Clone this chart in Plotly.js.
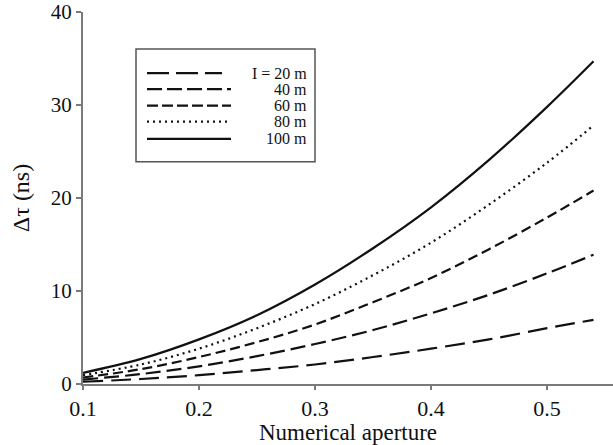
<!DOCTYPE html>
<html>
<head>
<meta charset="utf-8">
<script src="https://cdn.plot.ly/plotly-3.0.1.min.js"></script>
<style>html,body{margin:0;padding:0;background:#fff;}#chart{width:613px;height:445px;}</style>
</head>
<body>
<div id="chart"></div>
<script>
// Data
const numericalAperture = [0.10, 0.15, 0.20, 0.25, 0.30, 0.35, 0.40, 0.45, 0.50, 0.54];
const tau20  = [0.24, 0.54, 0.95, 1.5, 2.1, 2.9, 3.8, 4.8, 6.0, 6.9];
const tau40  = [0.48, 1.07, 1.9, 3.0, 4.3, 5.8, 7.6, 9.6, 11.9, 13.9];
const tau60  = [0.7, 1.6, 2.9, 4.5, 6.4, 8.8, 11.4, 14.5, 17.9, 20.8];
const tau80  = [0.95, 2.1, 3.8, 6.0, 8.6, 11.7, 15.2, 19.3, 23.8, 27.8];
const tau100 = [1.2, 2.7, 4.8, 7.4, 10.7, 14.6, 19.0, 24.1, 29.8, 34.7];
const seriesLabels = ['I = 20 m', '40 m', '60 m', '80 m', '100 m'];
const xTickVals = [0.1, 0.2, 0.3, 0.4, 0.5];
const xTickText = ['0.1', '0.2', '0.3', '0.4', '0.5'];
const yTickVals = [0, 10, 20, 30, 40];

const seriesValues = [tau20, tau40, tau60, tau80, tau100];
const dashes = ['20px,8px', '15px,6px', '10px,5px', '2px,4px', 'solid'];
const legendDashes = ['22px,7px', '15px,5px', '11px,4px', '2px,4px', 'solid'];

const traces = seriesValues.map((v, i) => ({
  x: numericalAperture, y: v, type: 'scatter', mode: 'lines',
  line: {color: '#111', width: 2.2, dash: dashes[i], shape: 'spline'},
  name: seriesLabels[i], showlegend: false, hoverinfo: 'skip'
}));

// pixel helpers for the hand-built legend (plot area: x 83..613, y 12..384.5)
const PL = 83, PR = 613, PT = 12, PB = 384.5;
const px = v => (v - PL) / (PR - PL);
const py = v => (PB - v) / (PB - PT);

const shapes = [{
  type: 'rect', xref: 'paper', yref: 'paper',
  x0: px(136), x1: px(315), y0: py(162), y1: py(49),
  line: {color: '#555', width: 1.5}, fillcolor: 'rgba(0,0,0,0)'
}];
const annotations = [];
const rowY = [73.3, 89.3, 105.7, 121.7, 139];
seriesLabels.forEach((lab, i) => {
  shapes.push({type: 'line', xref: 'paper', yref: 'paper',
    x0: px(147), x1: px(i === 0 ? 222 : 231), y0: py(rowY[i]), y1: py(rowY[i]),
    line: {color: '#111', width: 2.2, dash: legendDashes[i]}});
  annotations.push({xref: 'paper', yref: 'paper', x: px(308), y: py(rowY[i]),
    xanchor: 'right', yanchor: 'middle', text: lab, showarrow: false, borderpad: 0,
    font: {family: 'Liberation Serif, Times New Roman, serif', size: 16, color: '#111'}});
});

const fontFam = 'Liberation Serif, Times New Roman, serif';
const layout = {
  width: 613, height: 445,
  margin: {l: 83, r: 0, t: 12, b: 60.5, pad: 0},
  paper_bgcolor: '#fff', plot_bgcolor: '#fff',
  showlegend: false,
  font: {family: fontFam, color: '#111'},
  xaxis: {
    range: [0.1, 0.5568], tickvals: xTickVals, ticktext: xTickText,
    showgrid: false, zeroline: false, showline: true, linecolor: '#7a7a7a', linewidth: 2,
    ticks: 'outside', ticklen: 4, tickwidth: 1.5, tickcolor: '#7a7a7a',
    tickfont: {family: fontFam, size: 22, color: '#111'},
    title: {text: 'Numerical aperture', font: {family: fontFam, size: 23, color: '#111'}, standoff: 1}
  },
  yaxis: {
    range: [0, 40], tickvals: yTickVals,
    showgrid: false, zeroline: false, showline: true, linecolor: '#7a7a7a', linewidth: 2,
    ticks: 'outside', ticklen: 5, tickwidth: 1.5, tickcolor: '#7a7a7a',
    tickfont: {family: fontFam, size: 21, color: '#111'},
    title: {text: 'Δτ (ns)', font: {family: fontFam, size: 24, color: '#111'}, standoff: 14}
  },
  shapes: shapes, annotations: annotations
};

Plotly.newPlot('chart', traces, layout, {staticPlot: true, displayModeBar: false});
</script>
</body>
</html>
